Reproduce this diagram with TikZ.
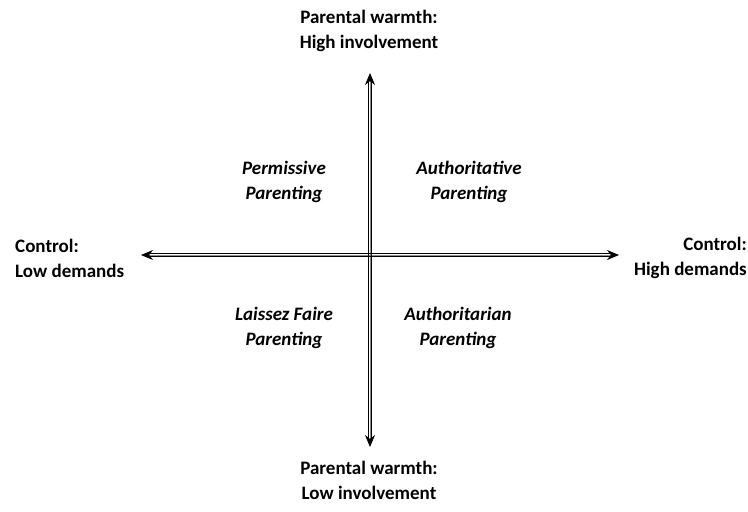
\documentclass[tikz,border=0pt]{standalone}
\usepackage{fontspec}
\setmainfont{Carlito}
\usepackage{tikz}
\usetikzlibrary{arrows.meta}
\usetikzlibrary{positioning}
\tikzset{>={Stealth[length=12pt,width=10pt,color=black]}}

\begin{document}
\begin{tikzpicture}[x=1pt, y=-1pt]
                        % axis = grey middle with the tips, rail = the two black lines beside it
                        \tikzstyle{axis}=[<->, draw=black!45, line width=0.9pt]
                        \tikzstyle{rail}=[draw=black, line width=0.9pt, shorten <=9pt, shorten >=9pt]
                        \tikzstyle{lbl}=[font=\fontsize{19}{25}\selectfont\bfseries, inner sep=0pt]
                        \tikzstyle{quad}=[font=\fontsize{19}{25}\selectfont\bfseries\itshape, align=center, inner sep=0pt]
                        \useasboundingbox (0,0) rectangle (748,512);

                        \coordinate (T) at (370, 73);
                        \coordinate (B) at (370, 447);
                        \coordinate (L) at (141, 255);
                        \coordinate (R) at (619, 255);

                        \draw[axis] (B) -- (T);
                        \draw[axis] (L) -- (R);
                        \draw[rail] ([xshift=-1.5pt]B) -- ([xshift=-1.5pt]T);
                        \draw[rail] ([xshift=1.5pt]B) -- ([xshift=1.5pt]T);
                        \draw[rail] ([yshift=-1.5pt]L) -- ([yshift=-1.5pt]R);
                        \draw[rail] ([yshift=1.5pt]L) -- ([yshift=1.5pt]R);

                        \node[lbl, align=center] (warmhi) at (369, 31) {Parental warmth:\\High involvement};
                        \node[lbl, align=center] (warmlo) at (369, 480) {Parental warmth:\\Low involvement};
                        \node[lbl, align=left, anchor=west] (ctrllo) at (15, 258) {Control:\\Low demands};
                        \node[lbl, align=right, anchor=east] (ctrlhi) at (747, 258) {Control:\\High demands};

                        \node[quad] (perm) at (284, 182) {Permissive\\Parenting};
                        \node[quad] (auth) at (469, 182) {Authoritative\\Parenting};
                        \node[quad] (laiss) at (284, 328) {Laissez Faire\\Parenting};
                        \node[quad] (autr) at (458, 328) {Authoritarian\\Parenting};

                \end{tikzpicture}
\end{document}
